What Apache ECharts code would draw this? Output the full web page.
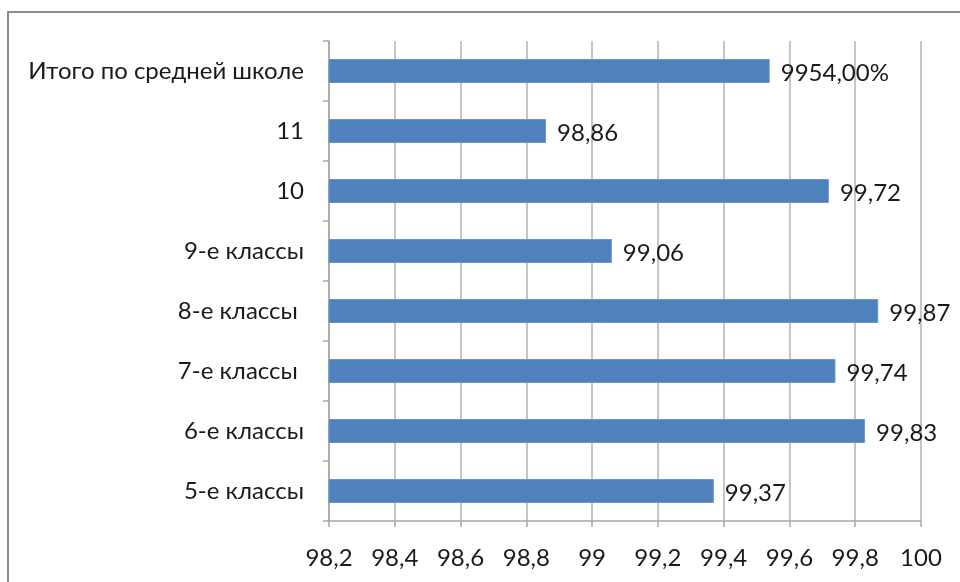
<!DOCTYPE html>
<html><head><meta charset="utf-8">
<script src="https://cdn.jsdelivr.net/npm/echarts@6/dist/echarts.min.js"></script>
<style>html,body{margin:0;padding:0;background:#fff}#c{width:960px;height:582px}</style>
</head><body><div id="c"></div>
<script>
const categories = ['5-е классы', '6-е классы', '7-е классы ', '8-е классы ', '9-е классы', '10', '11', 'Итого по средней школе'];
const values = [99.37, 99.83, 99.74, 99.87, 99.06, 99.72, 98.86, 99.54];
const valueLabels = ['99,37', '99,83', '99,74', '99,87', '99,06', '99,72', '98,86', '9954,00%'];
const xMin = 98.2, xMax = 100, xStep = 0.2;

const font = 'Lato, Carlito, "Open Sans", sans-serif';
const chart = echarts.init(document.getElementById('c'));
chart.setOption({
  animation: false,
  grid: { left: 329, right: 39, top: 41, bottom: 61, containLabel: false },
  graphic: [{ type: 'rect', shape: { x: 8, y: 12, width: 1000, height: 1000 }, style: { fill: 'none', stroke: '#8c8c8c', lineWidth: 2 }, silent: true, z: -1 }],
  xAxis: {
    type: 'value', min: xMin, max: xMax, interval: xStep,
    axisLine: { show: true, lineStyle: { color: '#a6a6a6', width: 1.5 } },
    axisTick: { show: true, length: 6, lineStyle: { color: '#a6a6a6', width: 1.5 } },
    splitLine: { show: true, lineStyle: { color: '#b3b3b3', width: 1.5 } },
    axisLabel: { color: '#1a1a1a', fontSize: 24, fontFamily: font, margin: 25,
      formatter: v => String(Math.round(v * 10) / 10).replace('.', ',') }
  },
  yAxis: {
    type: 'category', data: categories,
    axisLine: { show: true, lineStyle: { color: '#a6a6a6', width: 1.5 } },
    axisTick: { show: true, length: 6, lineStyle: { color: '#a6a6a6', width: 1.5 } },
    axisLabel: { color: '#1a1a1a', fontSize: 24, fontFamily: font, margin: 25 }
  },
  series: [{
    type: 'bar', data: values, barWidth: 24,
    itemStyle: { color: '#4f81bd', borderColor: '#6d97c9', borderWidth: 1 },
    label: { show: true, position: 'right', distance: 11, offset: [0, 2], color: '#1a1a1a', fontSize: 24, fontFamily: font,
      formatter: p => valueLabels[p.dataIndex] }
  }]
});
</script></body></html>
